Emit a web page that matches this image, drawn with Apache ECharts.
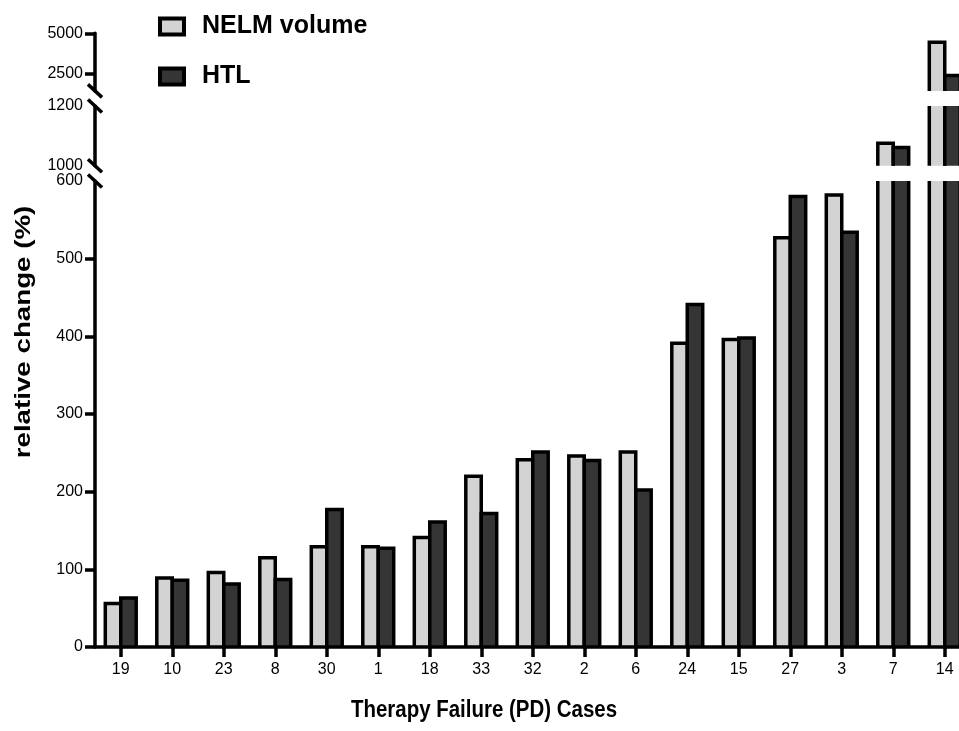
<!DOCTYPE html>
<html>
<head>
<meta charset="utf-8">
<title>Therapy Failure (PD) Cases</title>
<script src="https://cdn.jsdelivr.net/npm/echarts@6/dist/echarts.min.js"></script>
<style>
  html, body { margin: 0; padding: 0; background: #fff; }
  #chart { width: 959px; height: 731px; }
</style>
</head>
<body>
<div id="chart"></div>
<script>
// values, ordered as on the x axis
const cases = ['19', '10', '23', '8', '30', '1', '18', '33', '32', '2', '6', '24', '15', '27', '3', '7', '14']
const nelmVolume = [56, 89, 96, 115, 129, 129, 141, 220, 241, 246, 251, 391, 396, 527, 582, 1075, 4440]
const htl = [63, 86, 81, 87, 177, 127, 161, 172, 251, 240, 202, 441, 398, 580, 534, 1061, 2360]

// broken y axis: three stacked pieces, each with its own range
const lowTicks = [0, 100, 200, 300, 400, 500]
const midLabels = [1000, 1200]
const highLabels = [2500, 5000]

const FONT = '"Liberation Sans", Arial, Helvetica, sans-serif'
const AXIS_X = 95
const PLOT_W = 875.5
const EDGE = 3.5
// [top, height, min, max] of each piece, bottom piece first
const pieces = [
  [181, 466, 0, 600],
  [106, 59.7, 1000, 1200],
  [33.3, 57.6, 1400, 5000],
]

const chart = echarts.init(document.getElementById('chart'), null, { renderer: 'canvas' })

function barItem(side, fill) {
  return function (params, api) {
    const top = api.coord([api.value(0), api.value(1)])
    const base = api.coord([api.value(0), 0])
    const w = api.size([1, 0])[0] * 0.3
    return {
      type: 'rect',
      shape: {
        x: side < 0 ? top[0] - w : top[0],
        y: top[1],
        width: w,
        height: base[1] - top[1],
      },
      style: { fill: fill, stroke: '#000', lineWidth: EDGE },
    }
  }
}

const axisLine = { show: true, lineStyle: { color: '#000', width: EDGE } }
const tickLine = { color: '#000', width: EDGE }
const labelStyle = { color: '#000', fontSize: 16, fontFamily: FONT, formatter: v => String(v) }

const grids = pieces.map(p => ({
  left: AXIS_X, top: p[0], width: PLOT_W, height: p[1], outerBoundsMode: 'none',
}))

const xAxes = pieces.map((p, i) => ({
  type: 'category',
  gridIndex: i,
  data: cases,
  show: i === 0,
  axisLine: axisLine,
  axisTick: { show: true, alignWithLabel: true, length: 10, lineStyle: tickLine },
  axisLabel: Object.assign({}, labelStyle, { margin: 15, interval: 0 }),
  splitLine: { show: false },
}))

const yAxes = [
  {
    type: 'value', gridIndex: 0, min: pieces[0][2], max: pieces[0][3], interval: 100,
    axisLine: axisLine,
    axisTick: { show: true, length: 10, customValues: lowTicks, lineStyle: tickLine },
    axisLabel: Object.assign({ margin: 12 }, labelStyle),
    splitLine: { show: false },
  },
  {
    type: 'value', gridIndex: 1, min: pieces[1][2], max: pieces[1][3], interval: 200,
    axisLine: axisLine,
    axisTick: { show: false },
    axisLabel: Object.assign({ margin: 12, customValues: midLabels }, labelStyle),
    splitLine: { show: false },
  },
  {
    type: 'value', gridIndex: 2, min: pieces[2][2], max: pieces[2][3],
    axisLine: axisLine,
    axisTick: { show: true, length: 10, customValues: highLabels, lineStyle: tickLine },
    axisLabel: Object.assign({ margin: 12, customValues: highLabels }, labelStyle),
    splitLine: { show: false },
  },
]

const series = []
pieces.forEach((p, i) => {
  series.push({
    name: 'NELM volume', type: 'custom', xAxisIndex: i, yAxisIndex: i, clip: true,
    itemStyle: { color: '#d3d3d3', borderColor: '#000', borderWidth: EDGE },
    renderItem: barItem(-1, '#d3d3d3'),
    encode: { x: 0, y: 1 },
    data: cases.map((c, k) => [k, nelmVolume[k]]),
  })
  series.push({
    name: 'HTL', type: 'custom', xAxisIndex: i, yAxisIndex: i, clip: true,
    itemStyle: { color: '#353535', borderColor: '#000', borderWidth: EDGE },
    renderItem: barItem(1, '#353535'),
    encode: { x: 0, y: 1 },
    data: cases.map((c, k) => [k, htl[k]]),
  })
})

// break marks on the y axis, at the ends of each piece
const breakYs = [
  pieces[2][0] + pieces[2][1], pieces[1][0],
  pieces[1][0] + pieces[1][1], pieces[0][0],
]
const graphics = breakYs.map(y => ({
  type: 'line',
  shape: { x1: AXIS_X - 7, y1: y - 6.5, x2: AXIS_X + 7, y2: y + 6.5 },
  style: { stroke: '#000', lineWidth: EDGE },
}))
graphics.push({
  type: 'text', x: 484, y: 711, scaleX: 0.89,
  style: {
    text: 'Therapy Failure (PD) Cases', font: 'bold 23px ' + FONT, fill: '#000',
    align: 'center', verticalAlign: 'middle', textAlign: 'center', textVerticalAlign: 'middle',
  },
})
graphics.push({
  type: 'text', x: 24, y: 332, rotation: Math.PI / 2, scaleX: 1.26,
  style: {
    text: 'relative change (%)', font: 'bold 22px ' + FONT, fill: '#000',
    align: 'center', verticalAlign: 'middle', textAlign: 'center', textVerticalAlign: 'middle',
  },
})

chart.setOption({
  animation: false,
  backgroundColor: '#fff',
  legend: {
    orient: 'vertical',
    left: 158,
    top: 14,
    padding: 0,
    icon: 'rect',
    itemWidth: 24,
    itemHeight: 16,
    itemGap: 25,
    textStyle: { color: '#000', fontSize: 25, fontWeight: 'bold', fontFamily: FONT, lineHeight: 25, padding: [0, 0, 0, 13] },
    data: [
      { name: 'NELM volume', itemStyle: { color: '#d3d3d3', borderColor: '#000', borderWidth: 4 } },
      { name: 'HTL', itemStyle: { color: '#353535', borderColor: '#000', borderWidth: 4 } },
    ],
  },
  grid: grids,
  xAxis: xAxes,
  yAxis: yAxes,
  series: series,
  graphic: graphics,
})
</script>
</body>
</html>
